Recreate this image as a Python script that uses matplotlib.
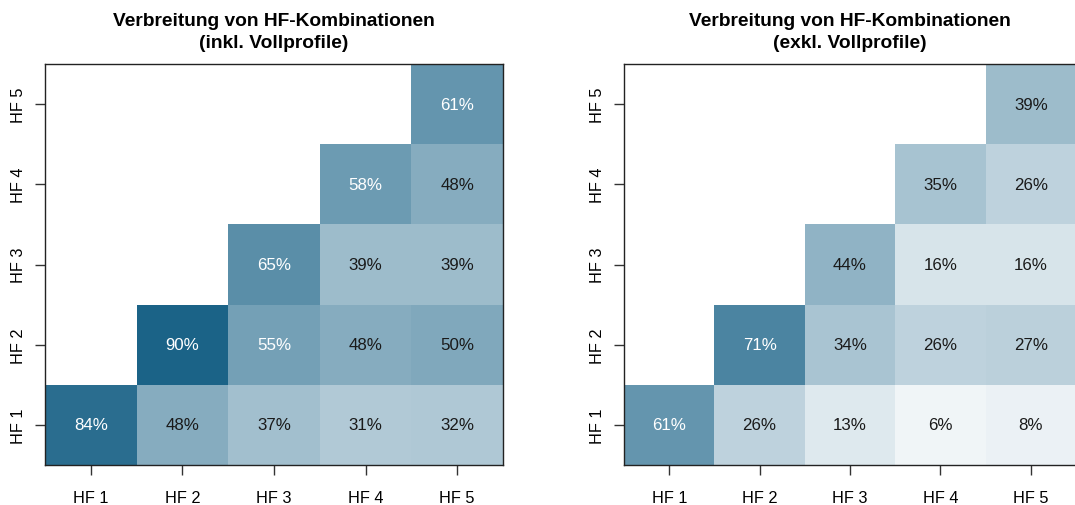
import numpy as np
import matplotlib.pyplot as plt
from matplotlib.colors import LinearSegmentedColormap

plt.rcParams['font.family'] = ['Liberation Sans', 'DejaVu Sans']

labels = ['HF 1', 'HF 2', 'HF 3', 'HF 4', 'HF 5']

# share of profiles per combination, rows = HF 1..HF 5 (y), cols = HF 1..HF 5 (x)
inkl = [
    [84, 48, 37, 31, 32],
    [None, 90, 55, 48, 50],
    [None, None, 65, 39, 39],
    [None, None, None, 58, 48],
    [None, None, None, None, 61],
]
exkl = [
    [61, 26, 13, 6, 8],
    [None, 71, 34, 26, 27],
    [None, None, 44, 16, 16],
    [None, None, None, 35, 26],
    [None, None, None, None, 39],
]
titles = ['Verbreitung von HF-Kombinationen\n(inkl. Vollprofile)',
          'Verbreitung von HF-Kombinationen\n(exkl. Vollprofile)']

cmap = LinearSegmentedColormap.from_list('hf', ['#ffffff', '#02527a'])


def heat(ax, values, title):
    arr = np.array([[np.nan if v is None else v for v in row] for row in values], dtype=float)
    data = np.ma.masked_invalid(arr / 100)
    n = len(labels)
    ax.pcolormesh(np.arange(n + 1) + 0.5, np.arange(n + 1) + 0.5, data,
                  cmap=cmap, vmin=0, vmax=1)
    for i in range(n):
        for j in range(n):
            v = arr[i, j]
            if np.isnan(v):
                continue
            col = 'white' if v > 52 else '#1a1a1a'
            ax.text(j + 1, i + 1, f'{v:.0f}%', ha='center', va='center',
                    color=col, fontsize=12.2)
    ax.set_xlim(0.5, n + 0.5)
    ax.set_ylim(0.5, n + 0.5)
    ax.set_xticks(range(1, n + 1))
    ax.set_xticklabels(labels, fontsize=11.8)
    ax.set_yticks(range(1, n + 1))
    ax.set_yticklabels(labels, fontsize=11.8, rotation=90, va='center')
    ax.tick_params(length=7, width=1, color='#333333')
    ax.tick_params(axis='y', pad=7)
    ax.tick_params(axis='x', pad=11)
    for s in ax.spines.values():
        s.set_color('#222222')
        s.set_linewidth(1)
    ax.set_title(title, fontsize=13.8, fontweight='bold', pad=12, linespacing=1.4)


fig = plt.figure(figsize=(10.75, 5.06), dpi=100)
W, H = 1075, 506
ax1 = fig.add_axes([45 / W, 1 - 466 / H, 458 / W, 401 / H])
ax2 = fig.add_axes([624 / W, 1 - 466 / H, 452 / W, 401 / H])
heat(ax1, inkl, titles[0])
heat(ax2, exkl, titles[1])

fig.savefig('out.png', dpi=100)
